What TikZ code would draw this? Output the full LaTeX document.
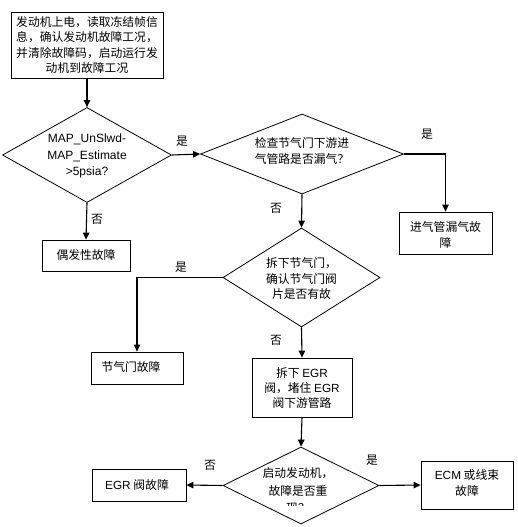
\documentclass[tikz,border=0pt]{standalone}
\usepackage{fontspec}
\setmainfont{Noto Sans CJK SC}
\newfontfamily\lat{Liberation Sans}
\usetikzlibrary{shapes.geometric,arrows.meta}
\begin{document}
\begin{tikzpicture}[x=1pt,y=-1pt,
  font=\fontsize{11.8}{15.5}\selectfont,
  box/.style={draw, line width=0.8pt, inner sep=0pt},
  dia/.style={draw, diamond, line width=0.8pt, inner sep=0pt},
  txt/.style={inner sep=0pt, align=center},
  arr/.style={line width=1.1pt, -{Triangle[length=7pt,width=6.5pt]}},
  lbl/.style={inner sep=0pt}]
\useasboundingbox (0,0) rectangle (517,527);
% boxes
\node (b0) [box, minimum width=152pt, minimum height=66pt] at (87,45) {};
\node (b0t) [txt] at (87,45) {发动机上电，读取冻结帧信\\息，确认发动机故障工况，\\并清除故障码，启动运行发\\动机到故障工况};
\node (d1) [dia, minimum width=169pt, minimum height=95pt] at (87,155) {};
\node (d1t) [txt, font=\lat\fontsize{12}{16.5}\selectfont] at (87,156) {MAP\_UnSlwd-\\MAP\_Estimate\\>5psia?};
\node (b1) [box, minimum width=88pt, minimum height=31pt] at (86,255.5) {};
\node (b1t) [txt] at (86,255.5) {偶发性故障};
\node (d2) [dia, minimum width=203pt, minimum height=80pt] at (302,154) {};
\node (d2t) [txt] at (302,151) {检查节气门下游进\\气管路是否漏气？};
\node (b2) [box, minimum width=93pt, minimum height=42pt] at (445.5,233) {};
\node (b2t) [txt] at (445.5,235) {进气管漏气故\\障};
\node (d3) [dia, minimum width=157pt, minimum height=99pt] at (301.5,277.5) {};
\node (d3t) [txt] at (301.5,279) {拆下节气门，\\确认节气门阀\\片是否有故};
\node (b3) [box, minimum width=92pt, minimum height=32pt] at (137,368) {};
\node (b3t) [txt] at (131,367) {节气门故障};
\node (b4) [box, minimum width=100pt, minimum height=59pt] at (302,387.5) {};
\node (b4t) [txt, font=\fontsize{11.8}{15}\selectfont] at (302,388) {拆下 {\lat EGR}\\阀，堵住 {\lat EGR}\\阀下游管路};
\node (d4) [dia, minimum width=156pt, minimum height=77pt] at (301,485.5) {};
\begin{scope}
\clip (223,440) rectangle (379,505);
\node (d4t) [txt, font=\fontsize{11.8}{17.5}\selectfont] at (298,491) {启动发动机，\\ 故障是否重\\现？};
\end{scope}
\node (b5) [box, minimum width=94pt, minimum height=32pt] at (139,485) {};
\node (b5t) [txt] at (137,485) {{\lat EGR} 阀故障};
\node (b6) [box, minimum width=92pt, minimum height=48pt] at (467,485) {};
\node (b6t) [txt] at (467,483) {{\lat ECM} 或线束\\故障};
% connectors
\draw[arr] (b0.south) -- (d1.north);
\draw[arr] (d1.east) -- (d2.west);
\draw[arr] (d1.south) -- (b1.north);
\draw[arr] (d2.east) -| (b2.north);
\draw[arr] (d2.south) -- (d3.north);
\draw[arr] (d3.west) -| (b3.north);
\draw[arr] (d3.south) -- (b4.north);
\draw[arr] (b4.south) -- (d4.north);
\draw[arr] (d4.west) -- (b5.east);
\draw[arr] (d4.east) -- (b6.west);
% labels
\node (l1) [lbl] at (182,141) {是};
\node (l2) [lbl] at (97,219) {否};
\node (l3) [lbl] at (427,134) {是};
\node (l4) [lbl] at (276,208) {否};
\node (l5) [lbl] at (181,267) {是};
\node (l6) [lbl] at (276,340) {否};
\node (l7) [lbl] at (210,465) {否};
\node (l8) [lbl] at (372,460) {是};
\end{tikzpicture}
\end{document}
